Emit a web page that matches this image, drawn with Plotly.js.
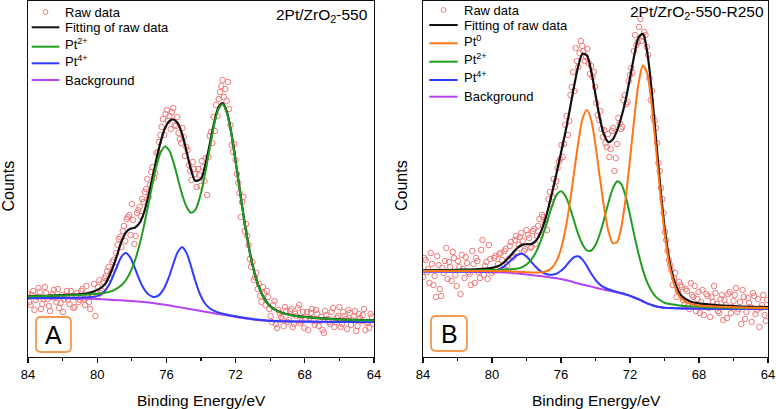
<!DOCTYPE html>
<html>
<head>
<meta charset="utf-8">
<script src="https://cdn.plot.ly/plotly-3.0.1.min.js"></script>
<style>
  html, body { margin: 0; padding: 0; background: #fff; }
  #chart { width: 776px; height: 409px; }
</style>
</head>
<body>
<div id="chart"></div>
<script>
// ---------------- DATA (binding energy in eV, counts in arbitrary units) ----------------
// Raw data energies, first and second (interleaved) sets, shared by both panels
const rawEnergy = [84.00,83.85,83.70,83.55,83.40,83.25,83.10,82.95,82.80,82.65,
  82.50,82.35,82.20,82.05,81.90,81.75,81.60,81.45,81.30,81.15,
  81.00,80.85,80.70,80.55,80.40,80.25,80.10,79.95,79.80,79.65,
  79.50,79.35,79.20,79.05,78.90,78.75,78.60,78.45,78.30,78.15,
  78.00,77.85,77.70,77.55,77.40,77.25,77.10,76.95,76.80,76.65,
  76.50,76.35,76.20,76.05,75.90,75.75,75.60,75.45,75.30,75.15,
  75.00,74.85,74.70,74.55,74.40,74.25,74.10,73.95,73.80,73.65,
  73.50,73.35,73.20,73.05,72.90,72.75,72.60,72.45,72.30,72.15,
  72.00,71.85,71.70,71.55,71.40,71.25,71.10,70.95,70.80,70.65,
  70.50,70.35,70.20,70.05,69.90,69.75,69.60,69.45,69.30,69.15,
  69.00,68.85,68.70,68.55,68.40,68.25,68.10,67.95,67.80,67.65,
  67.50,67.35,67.20,67.05,66.90,66.75,66.60,66.45,66.30,66.15,
  66.00,65.85,65.70,65.55,65.40,65.25,65.10,64.95,64.80,64.65,
  64.50,64.35,64.20,64.05];
const rawEnergy2 = [83.925,83.775,83.625,83.475,83.325,83.175,83.025,82.875,82.725,82.575,
  82.425,82.275,82.125,81.975,81.825,81.675,81.525,81.375,81.225,81.075,
  80.925,80.775,80.625,80.475,80.325,80.175,80.025,79.875,79.725,79.575,
  79.425,79.275,79.125,78.975,78.825,78.675,78.525,78.375,78.225,78.075,
  77.925,77.775,77.625,77.475,77.325,77.175,77.025,76.875,76.725,76.575,
  76.425,76.275,76.125,75.975,75.825,75.675,75.525,75.375,75.225,75.075,
  74.925,74.775,74.625,74.475,74.325,74.175,74.025,73.875,73.725,73.575,
  73.425,73.275,73.125,72.975,72.825,72.675,72.525,72.375,72.225,72.075,
  71.925,71.775,71.625,71.475,71.325,71.175,71.025,70.875,70.725,70.575,
  70.425,70.275,70.125,69.975,69.825,69.675,69.525,69.375,69.225,69.075,
  68.925,68.775,68.625,68.475,68.325,68.175,68.025,67.875,67.725,67.575,
  67.425,67.275,67.125,66.975,66.825,66.675,66.525,66.375,66.225,66.075,
  65.925,65.775,65.625,65.475,65.325,65.175,65.025,64.875,64.725,64.575,
  64.425,64.275,64.125];

// Panel A: 2Pt/ZrO2-550
const rawA = [63,52,66,57,69,48,58,64,51,60, 67,55,49,62,58,66,53,61,50,64,
  57,68,52,60,48,63,41,70,64,75, 81,90,84,97,104,118,110,131,138,142,
  153,113,144,150,158,165,178,172,190,184, 205,222,238,243,236,228,249,231,224,214,
  220,210,192,177,188,170,182,196,176,162, 221,214,226,241,265,277,268,275,232,205,
  197,174,140,160,133,112,90,77,84,73, 55,64,66,48,35,56,29,44,38,50,
  35,46,30,43,49,34,45,38,27,44, 36,47,31,40,24,42,35,45,30,39,
  50,33,41,28,44,37,46,31,39,42, 27,35,43,33];
const rawA2 = [55,62,47,60,65,53,70,58,46,63, 59,68,54,45,61,57,66,49,60,55,
  66,58,71,55,62,73,60,77,66,79, 86,79,95,90,112,120,126,116,140,122,
  137,121,147,141,155,168,160,185,179,204, 215,230,222,247,241,245,232,240,218,229,
  201,207,186,195,183,188,171,190,199,200, 225,240,252,258,271,260,256,248,212,213,
  183,164,155,126,121,98,95,80,68,61, 70,52,60,41,52,33,47,40,31,46,
  37,48,33,41,52,36,29,45,39,48, 32,43,36,27,46,38,33,49,35,41,
  30,45,38,47,32,40,26,43,36,48, 34,29,40];

const fitEnergyA = [84,82,80.5,79.6,79.08,78.58,78.33,78.08,77.83,77.58,77.33,77.08,76.83,76.58,76.33,76.08,
  75.83,75.58,75.33,75.08,74.83,74.58,74.33,74.0,73.75,73.5,73.25,73.0,72.75,72.5,72.25,72.0,
  71.75,71.5,71.25,71.0,70.75,70.5,70.25,70.0,69.75,69.25,68.5,67.5,66,64];
const fitA = [60.7,61.9,63.9,71.7,90.3,116.1,124.8,128.2,129.3,133.3,142.7,158.1,177.2,197.4,215.4,228.8,
  235.9,237.5,233.3,222.4,205.3,187.3,176.3,178.3,192.2,212.2,233.5,249.1,253.9,244.8,224.3,196.3,
  166.1,136.8,111.3,90.4,74.8,63.8,56.0,50.9,47.6,43.8,41.2,39.4,37.7,36.8];
const pt2A = [60.4,61.4,62.6,64.1,66.4,71.9,77.2,85.0,95.8,110.5,128.6,149.4,170.9,190.5,204.7,210.6,
  206.3,194.1,177.8,161.9,149.9,144.2,147.1,164.0,184.6,208.2,231.2,247.5,252.8,243.9,223.5,195.6,
  165.5,136.3,110.8,90.0,74.5,63.5,55.7,50.6,47.3,43.6,41.0,39.2,37.6,36.7];

const pt4EnergyA = [84,81,80,79.6,79.3,79.0,78.8,78.6,78.35,78.1,77.9,77.7,77.4,77.1,76.8,76.5,76.2,75.9,
  75.6,75.35,75.08,74.82,74.6,74.35,74.1,73.8,73.5,73.1,72.6,72,71,70,69,68,66,64];
const pt4A = [59.0,59.4,60.9,65.2,72.7,84.4,92.9,100.2,103.9,99.9,92.3,83.4,71.3,63.6,60.2,61.0,66.6,77.8,
  93.1,104.8,109.7,103.4,92.1,77.3,64.6,54.2,48.7,45.1,42.8,40.7,37.9,36.3,35.7,35.5,35.1,35.1];

const bgEnergyA = [84,82,80,79,78,77,76,75,74,73,72,71,70,69,68,66,64];
const bgA = [58.7,58.7,58,57,56,54.5,52,49,46,43,40,37.5,36,35.5,35.3,35,35];

// Panel B: 2Pt/ZrO2-550-R250
const rawB = [80,97,88,104,72,60,92,61,84,109, 95,76,99,71,90,102,79,94,83,106,
  74,96,79,117,91,78,98,86,101,93, 104,88,108,98,115,100,121,112,124,106,
  127,119,110,128,121,138,142,133,127,165, 160,170,189,198,200,232,222,262,285,309,
  290,316,306,300,294,291,285,254,237,228, 227,210,200,226,186,213,234,230,262,255,
  282,284,322,315,338,320,322,302,257,240, 229,194,169,144,117,97,87,79,60,75,
  70,52,66,48,62,71,58,44,67,50, 61,40,55,64,46,58,37,52,63,44,
  56,69,48,33,60,45,54,35,61,47, 30,52,42,57];
const rawB2 = [99,85,74,93,81,101,68,89,96,78, 90,105,82,96,63,88,100,85,72,93,
  99,85,107,82,95,112,84,99,87,103, 97,106,92,111,99,117,104,120,116,108,
  122,109,126,113,131,122,140,137,158,153, 178,176,195,212,213,241,236,270,266,296,
  304,311,296,308,283,280,270,242,246,220, 214,223,208,229,199,239,228,257,253,276,
  289,306,312,330,316,325,310,279,266,236, 214,186,158,125,106,92,72,84,66,72,
  57,68,51,74,60,46,65,55,42,63, 49,60,71,53,44,62,57,39,65,50,
  62,45,55,67,38,59,50,64,43,58, 49,62,36];

const energyB = [84,83,82,81,80.5,80,79.75,79.5,79.25,79,78.75,78.5,78.25,78,77.75,77.5,77.25,77,
  76.75,76.5,76.25,76,75.75,75.5,75.25,75,74.75,74.5,74.25,74,73.75,73.5,73.25,73,72.75,72.5,
  72.25,72,71.75,71.5,71.25,71,70.75,70.5,70.25,70,69.75,69.5,69.25,69,68.5,68,67,66,65,64];
const fitB = [86.6,86.8,87.2,87.65,88.2,89.2,90.2,92.15,95.5,100.0,105.05,109.5,112.15,112.8,112.9,115.4,121.8,132.8,
  147.7,165.4,184.45,204.2,224.3,246.5,270.05,290.8,303.2,301.5,286.1,262.3,238.9,222.2,215.0,217.6,226.6,240.0,
  257.35,279.05,301.85,319.7,323.15,304.6,267.5,219.3,171.5,130.45,99.85,79.9,67.7,60.9,55.6,53.6,51.8,50.8,50.2,49.85];
const pt0B = [85.9,85.9,85.9,86.0,86.0,86.0,85.9,85.9,85.9,85.8,85.5,85.2,85.0,84.8,84.5,84.4,84.6,85.1,
  86.5,89.8,96.4,108.3,126.8,152.6,183.4,214.3,238.3,246.9,236.9,211.7,179.9,149.2,125.8,113.9,114.9,130.3,
  158.9,197.6,239.1,274.0,291.5,283.3,253.2,209.5,164.4,125.0,95.4,76.1,64.4,58.0,53.2,51.6,50.4,49.7,49.3,49.1];
const pt2B = [86.1,86.2,86.4,86.55,86.8,87.1,87.1,87.25,87.5,87.8,88.05,88.6,89.95,92.5,96.7,103.3,112.6,124.7,
  138.5,151.9,162.05,165.7,161.2,150.4,136.45,122.8,112.5,106.7,106.5,112.0,123.0,138.0,154.3,168.4,175.6,172.7,
  160.35,142.1,121.75,102.9,86.9,74.6,66.1,60.1,56.75,54.3,53.2,52.45,51.8,51.3,50.7,50.2,49.6,49.2,49.0,48.9];
const pt4B = [85.6,85.5,85.5,85.45,85.6,86.1,86.8,88.35,91.1,95.0,99.25,102.5,103.15,100.5,95.7,90.7,86.6,84.0,
  82.5,82.3,83.35,86.2,90.3,95.5,99.75,100.7,97.4,90.9,83.5,77.2,72.6,69.6,67.7,66.3,65.1,64.0,
  62.65,61.35,59.55,57.8,55.75,53.7,52.2,50.7,49.9,49.15,49.0,48.9,48.7,48.6,48.5,48.4,48.3,48.3,48.3,48.25];
const bgB = [85.5,85.4,85.3,85.15,85.1,85.0,84.8,84.65,84.5,84.3,83.85,83.4,82.95,82.5,82.0,81.5,81.0,80.5,
  79.9,79.3,78.65,78.0,77.0,76.0,74.75,73.5,72.5,71.5,70.4,69.3,68.3,67.3,66.4,65.5,64.5,63.5,
  62.25,61.0,59.25,57.5,55.5,53.5,52.0,50.5,49.75,49.0,48.9,48.75,48.6,48.5,48.4,48.3,48.25,48.2,48.2,48.2];

const tickValues = [84, 80, 76, 72, 68, 64];
const minorTickValues = [82, 78, 74, 70, 66];
const titleA = '2Pt/ZrO<sub>2</sub>-550';
const titleB = '2Pt/ZrO<sub>2</sub>-550-R250';
const xTitle = 'Binding Energy/eV';
const yTitle = 'Counts';
const legendLabelsA = ['Raw data', 'Fitting of raw data', 'Pt<sup>2+</sup>', 'Pt<sup>4+</sup>', 'Background'];
const legendLabelsB = ['Raw data', 'Fitting of raw data', 'Pt<sup>0</sup>', 'Pt<sup>2+</sup>', 'Pt<sup>4+</sup>', 'Background'];

// ---------------- STYLE ----------------
const W = 776, H = 409;
const FONT = 'Liberation Sans, Arial, Helvetica, sans-serif';
const C = { raw: '#f27a7a', fit: '#111111', pt0: '#ff7518', pt2: '#1f9e1f', pt4: '#2f3cff', bg: '#b444f2', box: '#f29a52' };
const px = x => x / W;
const py = y => 1 - y / H;

function line(x, y, name, color, xa, ya, width) {
  return { x, y, name, type: 'scatter', mode: 'lines', xaxis: xa, yaxis: ya, showlegend: false,
    line: { color, width: width || 2, shape: 'spline', smoothing: 0.8 } };
}
function rawTrace(y, y2, xa, ya) {
  return { x: rawEnergy.concat(rawEnergy2), y: y.concat(y2), name: 'Raw data', type: 'scatter', mode: 'markers',
    xaxis: xa, yaxis: ya, showlegend: false,
    marker: { symbol: 'circle-open', size: 5.5, color: C.raw, line: { width: 1, color: C.raw } } };
}

const traces = [
  rawTrace(rawA, rawA2, 'x', 'y'),
  line(fitEnergyA, fitA, legendLabelsA[1], C.fit, 'x', 'y', 2.2),
  line(bgEnergyA, bgA, legendLabelsA[4], C.bg, 'x', 'y'),
  line(pt4EnergyA, pt4A, legendLabelsA[3], C.pt4, 'x', 'y'),
  line(fitEnergyA, pt2A, legendLabelsA[2], C.pt2, 'x', 'y'),

  rawTrace(rawB, rawB2, 'x2', 'y2'),
  line(energyB, fitB, legendLabelsB[1], C.fit, 'x2', 'y2', 2.2),
  line(energyB, bgB, legendLabelsB[5], C.bg, 'x2', 'y2'),
  line(energyB, pt4B, legendLabelsB[4], C.pt4, 'x2', 'y2'),
  line(energyB, pt2B, legendLabelsB[3], C.pt2, 'x2', 'y2'),
  line(energyB, pt0B, legendLabelsB[2], C.pt0, 'x2', 'y2'),
];

const yDom = [py(357), py(1)];
function xaxis(dom) {
  return { domain: dom, range: [84, 64], tickmode: 'array', tickvals: tickValues,
    ticks: 'outside', ticklen: 5, tickwidth: 1.2, tickcolor: '#111',
    minor: { tickmode: 'array', tickvals: minorTickValues, ticks: 'outside', ticklen: 3, tickwidth: 1.2, tickcolor: '#111' },
    showline: true, linecolor: '#111', linewidth: 1.3, mirror: true,
    showgrid: false, zeroline: false, tickfont: { family: FONT, size: 13, color: '#000' }, ticklabelstandoff: 0 };
}
function yaxis(anchor) {
  return { domain: yDom, range: [0, 356], anchor, showticklabels: false, ticks: '',
    showline: true, linecolor: '#111', linewidth: 1.3, mirror: true, showgrid: false, zeroline: false, fixedrange: true };
}

function roundRect(x0, y0, x1, y1, r) {
  const X = v => px(v).toFixed(5), Y = v => py(v).toFixed(5);
  return `M${X(x0 + r)},${Y(y0)} L${X(x1 - r)},${Y(y0)} Q${X(x1)},${Y(y0)} ${X(x1)},${Y(y0 + r)} ` +
    `L${X(x1)},${Y(y1 - r)} Q${X(x1)},${Y(y1)} ${X(x1 - r)},${Y(y1)} L${X(x0 + r)},${Y(y1)} ` +
    `Q${X(x0)},${Y(y1)} ${X(x0)},${Y(y1 - r)} L${X(x0)},${Y(y0 + r)} Q${X(x0)},${Y(y0)} ${X(x0 + r)},${Y(y0)} Z`;
}

function ann(text, x, y, opts) {
  return Object.assign({ text, x: px(x), y: py(y), xref: 'paper', yref: 'paper', showarrow: false,
    xanchor: 'center', yanchor: 'middle', font: { family: FONT, size: 15.5, color: '#000' } }, opts || {});
}

const annotations = [
  ann(xTitle, 201, 400),
  ann(xTitle, 596, 400),
  ann(yTitle, 7.5, 186, { textangle: -90, font: { family: FONT, size: 16, color: '#000' } }),
  ann(yTitle, 401, 186, { textangle: -90, font: { family: FONT, size: 16, color: '#000' } }),
  ann(titleA, 370, 15, { xanchor: 'right' }),
  ann(titleB, 766, 12, { xanchor: 'right' }),
  ann('A', 53.5, 335, { font: { family: FONT, size: 25, color: '#000' } }),
  ann('B', 449, 334, { font: { family: FONT, size: 25, color: '#000' } }),
];
const shapes = [
  { type: 'path', xref: 'paper', yref: 'paper', path: roundRect(36, 317, 71, 352, 5), line: { color: C.box, width: 1.8 } },
  { type: 'path', xref: 'paper', yref: 'paper', path: roundRect(431, 316, 467, 351, 5), line: { color: C.box, width: 1.8 } },
];

// Hand-placed legends (row positions follow the reference)
function addLegend(labels, colors, rows, lineX0, lineX1, textX) {
  labels.forEach((lab, i) => {
    const y = rows[i];
    const hasSup = lab.indexOf('<sup>') >= 0;
    if (i === 0) {
      const cx = (lineX0 + lineX1) / 2, r = 2.4;
      shapes.push({ type: 'circle', xref: 'paper', yref: 'paper', x0: px(cx - r), x1: px(cx + r),
        y0: py(y + r), y1: py(y - r), line: { color: C.raw, width: 1 } });
    } else {
      shapes.push({ type: 'line', xref: 'paper', yref: 'paper', x0: px(lineX0), x1: px(lineX1),
        y0: py(y), y1: py(y), line: { color: colors[i], width: 2 } });
    }
    annotations.push(ann(lab, textX, hasSup ? y - 2.5 : y, { xanchor: 'left',
      font: { family: FONT, size: 13, color: '#000' } }));
  });
}
addLegend(legendLabelsA, [C.raw, C.fit, C.pt2, C.pt4, C.bg], [12, 27.3, 46.7, 63.3, 80], 31.7, 59.3, 62.5);
addLegend(legendLabelsB, [C.raw, C.fit, C.pt0, C.pt2, C.pt4, C.bg], [10, 25, 43.3, 61.7, 80, 96.7], 429.3, 457.7, 461.5);

const layout = {
  width: W, height: H,
  margin: { l: 0, r: 0, t: 0, b: 0, pad: 0 },
  paper_bgcolor: '#fff', plot_bgcolor: '#fff',
  showlegend: false,
  font: { family: FONT, color: '#000' },
  xaxis: xaxis([px(28), px(374)]),
  yaxis: yaxis('x'),
  xaxis2: Object.assign(xaxis([px(423), px(768)]), { anchor: 'y2' }),
  yaxis2: yaxis('x2'),
  annotations, shapes,
};

Plotly.newPlot('chart', traces, layout, { staticPlot: true, displayModeBar: false });
</script>
</body>
</html>
